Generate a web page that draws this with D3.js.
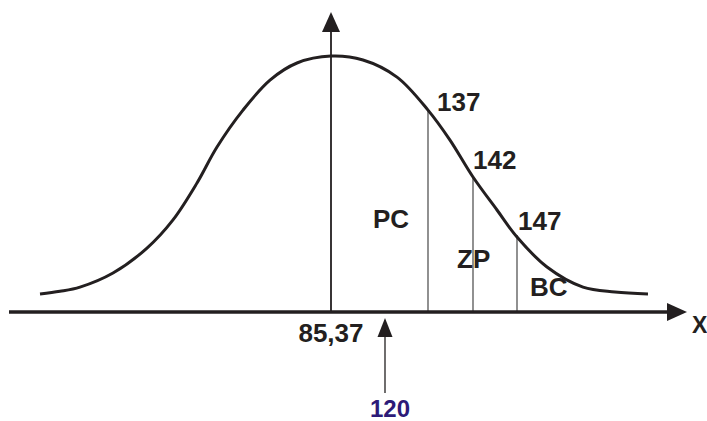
<!DOCTYPE html>
<html>
<head>
<meta charset="utf-8">
<script src="https://cdn.jsdelivr.net/npm/d3@7"></script>
<style>
  body { margin: 0; background: #fff; }
  text { font-family: "Liberation Sans", Arial, sans-serif; font-weight: bold; }
</style>
</head>
<body>
<div id="chart"></div>
<script>
// bell curve (x in sd-like units from the mean, y as relative height)
var curveX = [-2.91, -2.71, -2.51, -2.18, -1.84, -1.58, -1.34, -1.14, -0.88, -0.61, -0.34, 0,
              0.32, 0.66, 0.97, 1.19, 1.42, 1.66, 1.86, 2.16, 2.52, 2.84, 3.17];
var curveY = [0.06, 0.069, 0.083, 0.13, 0.213, 0.307, 0.43, 0.55, 0.673, 0.773, 0.83, 0.853,
              0.84, 0.783, 0.673, 0.573, 0.45, 0.34, 0.25, 0.15, 0.083, 0.067, 0.06];

// cut-off lines
var cutLabels = ["137", "142", "147"];
var cutX = [0.97, 1.42, 1.86];
var cutY = [0.673, 0.447, 0.257];

// zone labels
var zoneLabels = ["PC", "ZP", "BC"];

var meanLabel = "85,37";
var pointerLabel = "120";
var pointerX = 0.54;
var axisLabel = "X";

var width = 707, height = 421;
var ink = "#231f20";

var svg = d3.select("#chart")
  .append("svg")
    .attr("width", width)
    .attr("height", height);

var x = d3.scaleLinear()
  .domain([-3.22, 3.56])
  .range([9, 687]);

var y = d3.scaleLinear()
  .domain([0, 1])
  .range([312, 12]);

// label anchors (data units)
var cutLabelPos = [[1.06, 0.67], [1.42, 0.477], [1.87, 0.273]];
var zoneLabelPos = [[0.42, 0.28], [1.26, 0.147], [1.99, 0.053]];

// cut-off verticals
svg.selectAll(".cut")
  .data(cutX)
  .enter()
  .append("line")
    .attr("class", "cut")
    .attr("x1", function(d) { return x(d) })
    .attr("x2", function(d) { return x(d) })
    .attr("y1", y(0))
    .attr("y2", function(d, i) { return y(cutY[i]) })
    .attr("stroke", "#555")
    .attr("stroke-width", 1.3);

// vertical axis at the mean
svg.append("line")
  .attr("x1", x(0)).attr("x2", x(0))
  .attr("y1", y(0)).attr("y2", y(1) + 18)
  .attr("stroke", ink)
  .attr("stroke-width", 1.8);
svg.append("path")
  .attr("d", "M" + x(0) + "," + y(1) + "L" + (x(0) - 9) + "," + (y(1) + 20) +
             "L" + (x(0) + 9) + "," + (y(1) + 20) + "Z")
  .attr("fill", ink);

// horizontal axis
svg.append("line")
  .attr("x1", x(-3.22)).attr("x2", x(3.56) - 18)
  .attr("y1", y(0)).attr("y2", y(0))
  .attr("stroke", ink)
  .attr("stroke-width", 3.5);
svg.append("path")
  .attr("d", "M" + x(3.56) + "," + y(0) + "L" + (x(3.56) - 20) + "," + (y(0) - 9) +
             "L" + (x(3.56) - 20) + "," + (y(0) + 9) + "Z")
  .attr("fill", ink);

// the curve
var line = d3.line()
  .x(function(d) { return x(d[0]) })
  .y(function(d) { return y(d[1]) })
  .curve(d3.curveCatmullRom.alpha(0.5));

svg.append("path")
  .datum(d3.zip(curveX, curveY))
  .attr("d", line)
  .attr("fill", "none")
  .attr("stroke", ink)
  .attr("stroke-width", 3);

// cut labels
svg.selectAll(".cutLabel")
  .data(cutLabels)
  .enter()
  .append("text")
    .attr("x", function(d, i) { return x(cutLabelPos[i][0]) })
    .attr("y", function(d, i) { return y(cutLabelPos[i][1]) })
    .style("font-size", "26px")
    .attr("fill", ink)
    .text(function(d) { return d });

// zone labels
svg.selectAll(".zoneLabel")
  .data(zoneLabels)
  .enter()
  .append("text")
    .attr("x", function(d, i) { return x(zoneLabelPos[i][0]) })
    .attr("y", function(d, i) { return y(zoneLabelPos[i][1]) })
    .style("font-size", "26px")
    .attr("fill", ink)
    .text(function(d) { return d });

// mean label
svg.append("text")
  .attr("x", x(0))
  .attr("y", y(-0.1))
  .attr("text-anchor", "middle")
  .style("font-size", "26px")
  .attr("fill", ink)
  .text(meanLabel);

// pointer arrow for 120
svg.append("line")
  .attr("x1", x(pointerX)).attr("x2", x(pointerX))
  .attr("y1", y(0) + 81).attr("y2", y(0) + 22)
  .attr("stroke", ink)
  .attr("stroke-width", 1.3);
svg.append("path")
  .attr("d", "M" + x(pointerX) + "," + (y(0) + 6) + "L" + (x(pointerX) - 7.5) + "," + (y(0) + 25) +
             "L" + (x(pointerX) + 7.5) + "," + (y(0) + 25) + "Z")
  .attr("fill", ink);
svg.append("text")
  .attr("x", x(pointerX) + 5)
  .attr("y", y(-0.35))
  .attr("text-anchor", "middle")
  .style("font-size", "24px")
  .attr("fill", "#2d1a78")
  .text(pointerLabel);

// axis name
svg.append("text")
  .attr("x", x(3.61))
  .attr("y", y(-0.07))
  .style("font-size", "23px")
  .attr("fill", ink)
  .text(axisLabel);
</script>
</body>
</html>
